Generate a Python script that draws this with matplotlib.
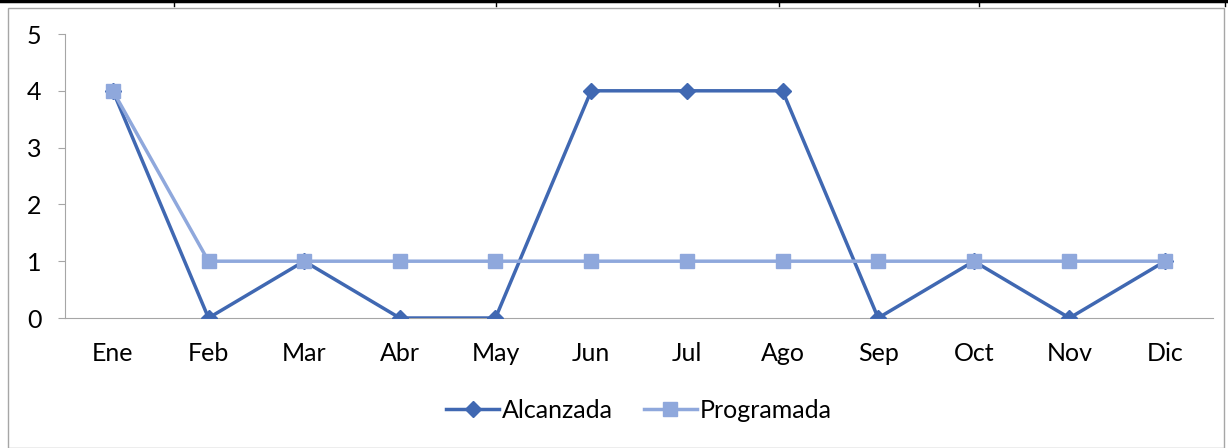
import matplotlib.pyplot as plt
from matplotlib.lines import Line2D
from matplotlib.patches import Rectangle

# Data
meses = ['Ene', 'Feb', 'Mar', 'Abr', 'May', 'Jun', 'Jul', 'Ago', 'Sep', 'Oct', 'Nov', 'Dic']
alcanzada = [4, 0, 1, 0, 0, 4, 4, 4, 0, 1, 0, 1]
programada = [4, 1, 1, 1, 1, 1, 1, 1, 1, 1, 1, 1]

plt.rcParams['font.family'] = ['Lato', 'DejaVu Sans']

W, H = 1228, 448
fig = plt.figure(figsize=(W / 100, H / 100), dpi=100)

# table borders above the chart
fig.add_artist(Line2D([0, 1], [1 - 1.5 / H, 1 - 1.5 / H], color='black', lw=2.5, transform=fig.transFigure))
for xp in [174, 496, 779, 979, 1225]:
    fig.add_artist(Line2D([xp / W, xp / W], [1, 1 - 6 / H], color='black', lw=1, transform=fig.transFigure))

# chart frame
fig.add_artist(Rectangle((8 / W, 0), 1 - 8 / W - 4 / W, 1 - 8 / H, transform=fig.transFigure,
                         fill=False, edgecolor='#A6A6A6', lw=1))

ax = fig.add_axes([65 / W, 1 - 318 / H, (1213 - 65) / W, (318 - 34) / H])
x = range(len(meses))
ax.plot(x, alcanzada, color='#4068B2', lw=2.5, marker='D', markersize=8, label='Alcanzada', zorder=2)
ax.plot(x, programada, color='#8FA8DC', lw=2.5, marker='s', markersize=10, label='Programada', zorder=3)

ax.set_xlim(-0.5, len(meses) - 0.5)
ax.set_ylim(0, 5)
ax.set_yticks(range(6))
ax.set_xticks(list(x))
ax.set_xticklabels(meses)
for s in ['top', 'right']:
    ax.spines[s].set_visible(False)
for s in ['left', 'bottom']:
    ax.spines[s].set_color('#A6A6A6')
ax.tick_params(axis='y', length=5, color='#A6A6A6', labelsize=18, pad=12)
ax.tick_params(axis='x', length=0, labelsize=18, pad=17)
ax.spines['bottom'].set_zorder(1)

ax.legend(loc='center', bbox_to_anchor=(0.5, -0.325), ncol=2, frameon=False,
          fontsize=18, handlelength=2.1, columnspacing=1.25, handletextpad=0.12)

fig.savefig('out.png', dpi=100)
